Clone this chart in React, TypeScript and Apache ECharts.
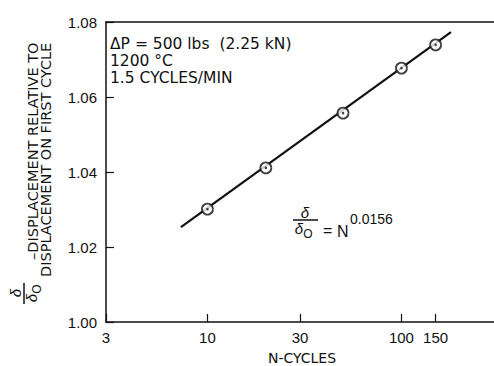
import React, { useEffect, useRef } from "react";
import * as echarts from "echarts";

const cycles = [10, 20, 50, 100, 150];
const ratio = [1.0301, 1.0411, 1.0557, 1.0677, 1.0739];
const fitCycles = [7.3, 180];
const fitRatio = [1.0253, 1.0773];
const xTicks = [3, 10, 30, 100, 150];
const yTicks = [1.0, 1.02, 1.04, 1.06, 1.08];
const notes = ["ΔP = 500 lbs  (2.25 kN)", "1200 °C", "1.5 CYCLES/MIN"];

const FONT = "Liberation Sans, Arial, sans-serif";
const FONT2 = "DejaVu Sans, sans-serif";

export default function App() {
  const ref = useRef<HTMLDivElement>(null);
  useEffect(() => {
    if (!ref.current) return;
    const chart = echarts.init(ref.current, null, { renderer: "svg" });
    const pts = cycles.map((c, i) => [c, ratio[i]]);
    const fit = fitCycles.map((c, i) => [c, fitRatio[i]]);
    const txt = { fill: "#111", fontFamily: FONT };
    chart.setOption({
      animation: false,
      backgroundColor: "#fff",
      grid: { left: 106, top: 22, bottom: 44, right: -6 },
      xAxis: [
        {
          type: "log",
          logBase: 10,
          min: 3,
          max: 300,
          axisLine: { show: true, lineStyle: { color: "#111", width: 1.5 } },
          axisTick: {
            show: true,
            inside: true,
            length: 8,
            customValues: xTicks,
            lineStyle: { color: "#111", width: 1.2 },
          },
          axisLabel: {
            customValues: xTicks,
            formatter: (v: number) => String(Math.round(v)),
            color: "#111",
            fontSize: 15,
            fontFamily: FONT,
            margin: 8,
          },
          splitLine: { show: false },
          minorTick: { show: false },
        },
        {
          type: "value",
          position: "top",
          min: 0,
          max: 1,
          axisLine: { show: true, lineStyle: { color: "#111", width: 1.5 } },
          axisTick: { show: false },
          axisLabel: { show: false },
          splitLine: { show: false },
        },
      ],
      yAxis: {
        type: "value",
        min: 1.0,
        max: 1.08,
        interval: 0.02,
        axisLine: { show: true, lineStyle: { color: "#111", width: 1.5 } },
        axisTick: {
          show: true,
          inside: true,
          length: 8,
          customValues: yTicks,
          lineStyle: { color: "#111", width: 1.2 },
        },
        axisLabel: {
          formatter: (v: number) => v.toFixed(2),
          color: "#111",
          fontSize: 15,
          fontFamily: FONT,
          margin: 9,
        },
        splitLine: { show: false },
      },
      series: [
        {
          type: "line",
          data: fit,
          showSymbol: false,
          lineStyle: { color: "#111", width: 2.2 },
          z: 2,
        },
        {
          type: "scatter",
          data: pts,
          symbol: "circle",
          symbolSize: 11,
          itemStyle: { color: "#fff", borderColor: "#111", borderWidth: 1.8 },
          z: 3,
        },
        {
          type: "scatter",
          data: pts,
          symbol: "circle",
          symbolSize: 2.5,
          itemStyle: { color: "#111" },
          z: 4,
        },
      ],
      graphic: [
        ...notes.map((t, i) => ({
          type: "text",
          x: 110,
          y: 44 + i * 17,
          style: { fill: "#111", fontFamily: FONT2, text: t, fontSize: 15.5, align: "left", verticalAlign: "middle" },
        })),
        {
          type: "text",
          x: 302,
          y: 358,
          style: { fill: "#111", fontFamily: FONT2, text: "N-CYCLES", fontSize: 14, align: "center", verticalAlign: "middle" },
        },
        {
          type: "text",
          x: 33,
          y: 260,
          rotation: Math.PI / 2,
          style: { fill: "#111", fontFamily: FONT2, text: "–DISPLACEMENT RELATIVE TO", fontSize: 14.5, align: "left", verticalAlign: "middle" },
        },
        {
          type: "text",
          x: 46,
          y: 277,
          rotation: Math.PI / 2,
          style: { fill: "#111", fontFamily: FONT2, text: "DISPLACEMENT ON FIRST CYCLE", fontSize: 14.5, align: "left", verticalAlign: "middle" },
        },
        // left rotated fraction
        {
          type: "text",
          x: 15,
          y: 293,
          rotation: Math.PI / 2,
          style: { ...txt, text: "δ", fontSize: 15, fontStyle: "italic", align: "center", verticalAlign: "middle" },
        },
        {
          type: "line",
          shape: { x1: 24, y1: 283, x2: 24, y2: 304 },
          style: { stroke: "#111", lineWidth: 1.5 },
        },
        {
          type: "text",
          x: 31,
          y: 298,
          rotation: Math.PI / 2,
          style: { ...txt, text: "δ", fontSize: 15, fontStyle: "italic", align: "center", verticalAlign: "middle" },
        },
        {
          type: "text",
          x: 37,
          y: 289,
          rotation: Math.PI / 2,
          style: { ...txt, text: "O", fontSize: 12, align: "center", verticalAlign: "middle" },
        },
        // right formula
        {
          type: "text",
          x: 305,
          y: 212,
          style: { ...txt, text: "δ", fontSize: 15, fontStyle: "italic", align: "center", verticalAlign: "middle" },
        },
        {
          type: "line",
          shape: { x1: 293, y1: 220, x2: 318, y2: 220 },
          style: { stroke: "#111", lineWidth: 1.5 },
        },
        {
          type: "text",
          x: 299,
          y: 228,
          style: { ...txt, text: "δ", fontSize: 15, fontStyle: "italic", align: "center", verticalAlign: "middle" },
        },
        {
          type: "text",
          x: 308,
          y: 234,
          style: { ...txt, text: "O", fontSize: 12, align: "center", verticalAlign: "middle" },
        },
        {
          type: "text",
          x: 323,
          y: 230,
          style: { ...txt, text: "=", fontSize: 16, align: "left", verticalAlign: "middle" },
        },
        {
          type: "text",
          x: 337,
          y: 231,
          style: { ...txt, text: "N", fontSize: 16, align: "left", verticalAlign: "middle" },
        },
        {
          type: "text",
          x: 350,
          y: 219,
          style: { ...txt, text: "0.0156", fontSize: 14, align: "left", verticalAlign: "middle" },
        },
      ],
    });
    return () => chart.dispose();
  }, []);
  return (
    <div
      ref={ref}
      style={{ position: "absolute", left: 0, top: 0, width: 494, height: 366 }}
    />
  );
}
